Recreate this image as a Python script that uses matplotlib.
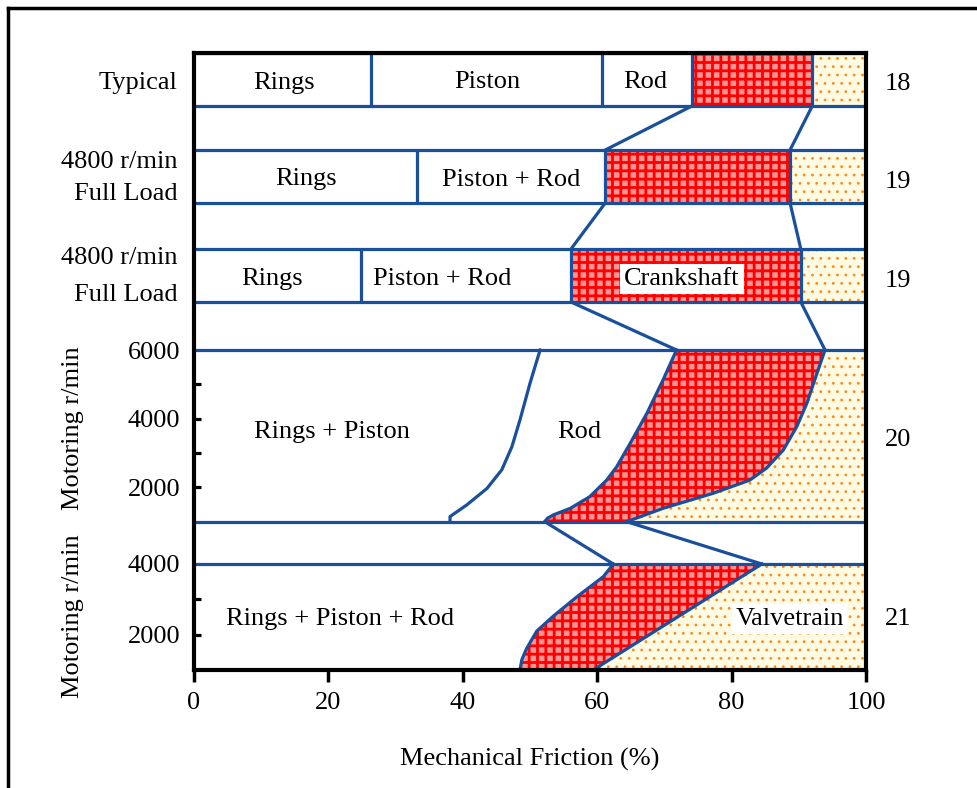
import matplotlib.pyplot as plt
import matplotlib.transforms as mtransforms
from matplotlib.lines import Line2D

plt.rcParams['font.family'] = ['Liberation Serif', 'DejaVu Serif']

BLUE = '#1a4f9c'
PINK = '#ff9494'
RED = '#ff0000'
CREAM = '#fffbe3'
ORANGE = '#ff8a1c'

# bar rows: segment edges in % of mechanical friction (last two = crankshaft, valvetrain start)
typical_edges = [26.4, 60.7, 74.1, 92.0]
typical_names = ['Rings', 'Piston', 'Rod']
load_a_edges = [33.2, 61.2, 88.7]
load_a_names = ['Rings', 'Piston + Rod']
load_b_edges = [24.8, 56.1, 90.3]
load_b_names = ['Rings', 'Piston + Rod']
row_titles = [['Typical'], ['4800 r/min', 'Full Load'], ['4800 r/min', 'Full Load']]
totals = ['18', '19', '19', '20', '21']

# motoring sweep 1 (1000-6000 r/min): boundary curves, % vs r/min
m1_rod_x = [51.5, 50.8, 50.0, 48.5, 47.3, 45.8, 43.6, 40.6, 38.1, 38.1]
m1_rod_rpm = [6000, 5550, 5030, 3960, 3180, 2510, 1970, 1490, 1150, 1000]
m1_crank_x = [71.8, 69.8, 67.4, 64.9, 62.9, 61.4, 58.9, 56.0, 53.5, 52.6, 52.2]
m1_crank_rpm = [6000, 5130, 4160, 3280, 2600, 2210, 1730, 1390, 1200, 1100, 1000]
m1_valve_x = [93.9, 92.7, 91.2, 89.7, 87.7, 85.2, 82.7, 77.3, 69.8, 64.4]
m1_valve_rpm = [6000, 5320, 4450, 3770, 3090, 2560, 2210, 1830, 1390, 1000]
m1_ticks = [5000, 4000, 3000, 2000]
m1_labels = [6000, 4000, 2000]

# motoring sweep 2 (1000-4000 r/min)
m2_crank_x = [62.4, 60.9, 56.9, 53.5, 51.0, 49.5, 48.8, 48.5]
m2_crank_rpm = [4000, 3640, 3060, 2530, 2100, 1610, 1300, 1000]
m2_valve_x = [84.5, 59.4]
m2_valve_rpm = [4000, 1000]
m2_ticks = [3000, 2000]
m2_labels = [4000, 2000]

# vertical layout (data units)
rows = [(564, 617), (467, 520), (368, 421)]
title_offsets = [[-3], [15, -17], [18, -19]]
m1_span = (148.3, 320.0)
m2_span = (0.0, 106.0)


def y1(rpm):
    return [m1_span[0] + (r - 1000) / 5000 * (m1_span[1] - m1_span[0]) for r in rpm]


def y2(rpm):
    return [m2_span[0] + (r - 1000) / 3000 * (m2_span[1] - m2_span[0]) for r in rpm]


def hatch_lw(artists, lw):
    for a in artists:
        if hasattr(a, 'set_hatch_linewidth'):
            a.set_hatch_linewidth(lw)


fig = plt.figure(figsize=(9.77, 7.88), dpi=100)
ax = fig.add_axes([194 / 977, 1 - 670 / 788, 672 / 977, 617 / 788])
ax.set_xlim(0, 100)
ax.set_ylim(0, 617)

crank_kw = dict(facecolor=PINK, edgecolor=RED, hatch='++', linewidth=0, zorder=1)
valve_kw = dict(facecolor=CREAM, edgecolor=ORANGE, hatch='..', linewidth=0, zorder=1)
line_kw = dict(color=BLUE, lw=2.3, zorder=2.6)
seg_kw = dict(colors=BLUE, lw=2.3, zorder=2.6, capstyle='butt')
CRANK_LW, VALVE_LW = 2.0, 0.8

all_edges = [typical_edges, load_a_edges, load_b_edges]
all_names = [typical_names, load_a_names, load_b_names]
for (lo, hi), edges in zip(rows, all_edges):
    c, v = edges[-2], edges[-1]
    hatch_lw(ax.barh((lo + hi) / 2, v - c, left=c, height=hi - lo, **crank_kw), CRANK_LW)
    hatch_lw(ax.barh((lo + hi) / 2, 100 - v, left=v, height=hi - lo, **valve_kw), VALVE_LW)
    ax.vlines(edges, lo, hi, **seg_kw)
    ax.hlines([lo, hi], 0, 100, **seg_kw)

# motoring sweep 1
yc, yv, yr = y1(m1_crank_rpm), y1(m1_valve_rpm), y1(m1_rod_rpm)
hatch_lw(ax.fill(m1_crank_x + m1_valve_x[::-1], yc + yv[::-1], **crank_kw), CRANK_LW)
hatch_lw(ax.fill(m1_valve_x + [100, 100], yv + [m1_span[0], m1_span[1]], **valve_kw), VALVE_LW)
ax.plot(m1_rod_x, yr, **line_kw)
ax.plot(m1_crank_x, yc, **line_kw)
ax.plot(m1_valve_x, yv, **line_kw)
ax.hlines(list(m1_span), 0, 100, **seg_kw)

# motoring sweep 2
yc2, yv2 = y2(m2_crank_rpm), y2(m2_valve_rpm)
hatch_lw(ax.fill(m2_crank_x + m2_valve_x[::-1], yc2 + yv2[::-1], **crank_kw), CRANK_LW)
hatch_lw(ax.fill(m2_valve_x + [100, 100], yv2 + [m2_span[0], m2_span[1]], **valve_kw), VALVE_LW)
ax.plot(m2_crank_x, yc2, **line_kw)
ax.plot(m2_valve_x, yv2, **line_kw)
ax.hlines([m2_span[1]], 0, 100, **seg_kw)

# connectors between panels
tops = [(typical_edges[-2], typical_edges[-1], rows[0][0]),
        (load_a_edges[-2], load_a_edges[-1], rows[1][0]),
        (load_b_edges[-2], load_b_edges[-1], rows[2][0]),
        (m1_crank_x[-1], m1_valve_x[-1], m1_span[0])]
bottoms = [(load_a_edges[-2], load_a_edges[-1], rows[1][1]),
           (load_b_edges[-2], load_b_edges[-1], rows[2][1]),
           (m1_crank_x[0], m1_valve_x[0], m1_span[1]),
           (m2_crank_x[0], m2_valve_x[0], m2_span[1])]
for (c0, v0, ya), (c1, v1, yb) in zip(tops, bottoms):
    ax.plot([c0, c1], [ya, yb], **line_kw)
    ax.plot([v0, v1], [ya, yb], **line_kw)

# region labels
fs = 19
label_pos = [[13.4, 43.6, 67.2], [16.6, 47.2], [11.6, 36.9]]
for (lo, hi), names, xs in zip(rows, all_names, label_pos):
    for name, x in zip(names, xs):
        ax.text(x, (lo + hi) / 2 - 3, name, ha='center', va='center', fontsize=fs, zorder=4)
ax.text(72.6, 391, 'Crankshaft', ha='center', va='center', fontsize=fs, zorder=4,
        bbox=dict(facecolor='white', edgecolor='none', pad=3))
ax.text(20.5, 238, 'Rings + Piston', ha='center', va='center', fontsize=fs, zorder=4)
ax.text(57.4, 238, 'Rod', ha='center', va='center', fontsize=fs, zorder=4)
ax.text(21.7, 51, 'Rings + Piston + Rod', ha='center', va='center', fontsize=fs, zorder=4)
ax.text(88.7, 51, 'Valvetrain', ha='center', va='center', fontsize=fs, zorder=4,
        bbox=dict(facecolor='white', edgecolor='none', pad=3))

# left row titles and right totals
tr = mtransforms.blended_transform_factory(ax.transAxes, ax.transData)
for (lo, hi), lines, offs in zip(rows, row_titles, title_offsets):
    for line, off in zip(lines, offs):
        ax.text(-0.024, (lo + hi) / 2 + off, line, transform=tr, ha='right', va='center',
                fontsize=fs)
ax.text(-0.18, sum(m1_span) / 2 + 8, 'Motoring r/min', transform=tr, rotation=90,
        ha='center', va='center', fontsize=fs)
ax.text(-0.18, 54, 'Motoring r/min', transform=tr, rotation=90,
        ha='center', va='center', fontsize=fs)
right_y = [(lo + hi) / 2 - 5 for lo, hi in rows] + [sum(m1_span) / 2 - 4, 51]
for t, yy in zip(totals, right_y):
    ax.text(1.048, yy, t, transform=tr, ha='center', va='center', fontsize=fs)

# axes styling
for s in ax.spines.values():
    s.set_linewidth(3)
    s.set_zorder(5)
ax.set_xticks([0, 20, 40, 60, 80, 100])
ax.tick_params(axis='x', direction='out', length=8.5, width=2.5, labelsize=fs, pad=7)
ax.set_xlabel('Mechanical Friction (%)', fontsize=fs, labelpad=25)
ax.set_yticks(y1(m1_labels) + y2(m2_labels), [str(v) for v in m1_labels + m2_labels])
ax.tick_params(axis='y', length=0, labelsize=fs, pad=10)
# inward r/min tick marks on the left spine
ax.hlines(y1(m1_ticks) + y2(m2_ticks), 0, 1.0, colors='black', lw=2.3, zorder=5,
          capstyle='butt')

# outer frame
fig.add_artist(Line2D([8 / 977, 8 / 977], [0, 1 - 8 / 788], color='black', lw=2.5))
fig.add_artist(Line2D([8 / 977, 1], [1 - 8 / 788, 1 - 8 / 788], color='black', lw=2.5))

fig.savefig('out.png', dpi=100)
